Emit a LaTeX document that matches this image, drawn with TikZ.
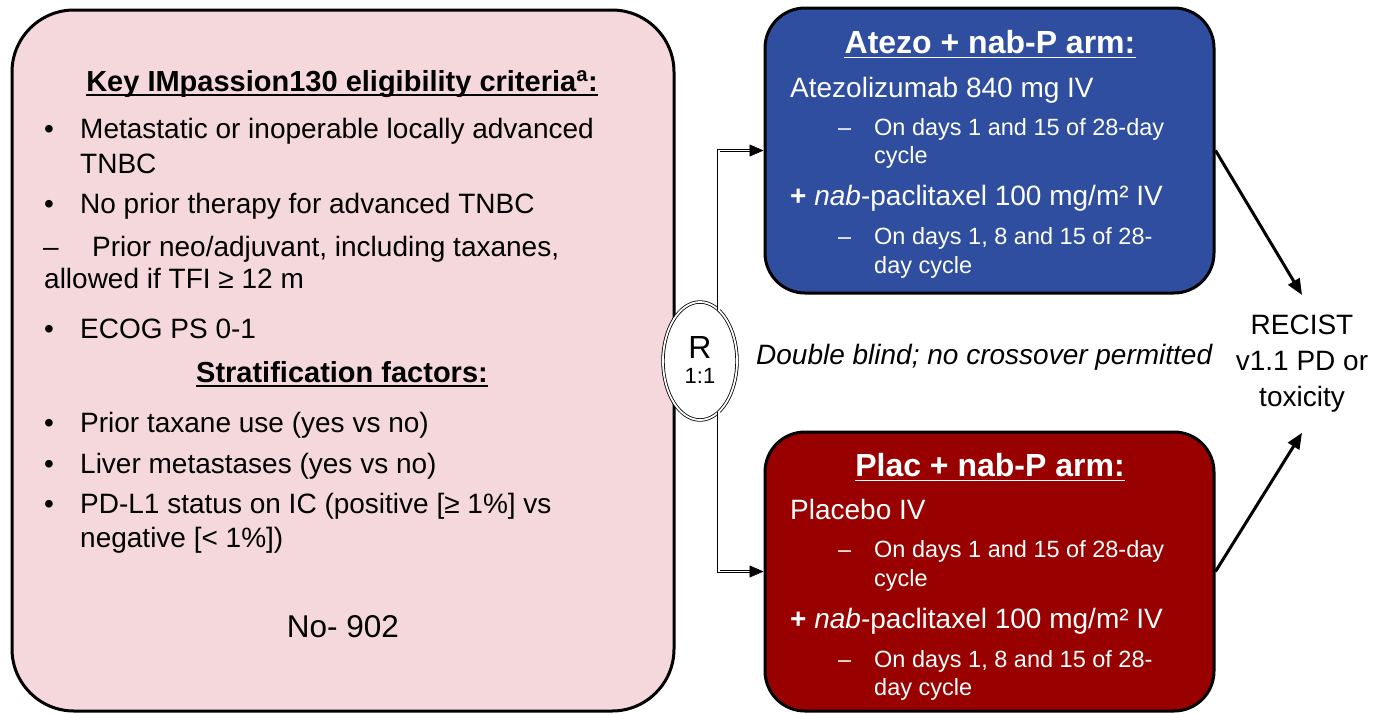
\documentclass[tikz,border=0pt]{standalone}
\usepackage{fontspec}
\setmainfont{Liberation Sans}
\usetikzlibrary{arrows.meta,shapes.geometric}
\definecolor{pinkfill}{RGB}{244,216,219}
\definecolor{bluefill}{RGB}{47,78,160}
\definecolor{redfill}{RGB}{153,0,0}
\begin{document}
\begin{tikzpicture}[x=1pt,y=-1pt,
  txt/.style={inner sep=0pt, anchor=base west, font=\fontsize{28}{33}\selectfont},
  wtxt/.style={txt, text=white},
  sub/.style={inner sep=0pt, anchor=base west, font=\fontsize{23.5}{28}\selectfont, text=white},
  hdr/.style={inner sep=0pt, anchor=base, font=\bfseries\fontsize{29}{35}\selectfont},
  armhdr/.style={inner sep=0pt, anchor=base, text=white, font=\bfseries\fontsize{32}{38}\selectfont},
  box/.style={draw=black, line width=3pt, rounded corners=#1, inner sep=0pt},
  uline/.style={line width=1.8pt},
  arr/.style={line width=3pt, -{Triangle[length=16pt,width=13pt]}},
  dbl/.style={draw=black, double=white, line width=0.8pt, double distance=1.8pt},
  tip/.style={line width=0.5pt, -{Triangle[length=14pt,width=12pt]}},
]
\useasboundingbox (0,0) rectangle (1376,713);
\fill[white] (0,0) rectangle (1376,713);

% boxes
\node[box=62, fill=pinkfill, minimum width=662pt, minimum height=701pt] (elig) at (343,360.5) {};
\node[box=40, fill=bluefill, minimum width=449pt, minimum height=285pt] (atz) at (989.5,150.5) {};
\node[box=40, fill=redfill, minimum width=449pt, minimum height=279pt] (plc) at (989.5,571.5) {};

% left box text
\node[hdr] (h1) at (342,91) {Key IMpassion130 eligibility criteria\textsuperscript{a}:};
\draw[uline] ([yshift=-4pt]h1.base west) -- ([yshift=-4pt]h1.base east);
\node[txt] (b1) at (44,138) {•};
\node[txt] (t1a) at (80,138) {Metastatic or inoperable locally advanced};
\node[txt] (t1b) at (80,173) {TNBC};
\node[txt] (b2) at (44,213) {•};
\node[txt] (t2) at (80,213) {No prior therapy for advanced TNBC};
\node[txt] (d3) at (43,256) {–};
\node[txt] (t3a) at (92,256) {Prior neo/adjuvant, including taxanes,};
\node[txt] (t3b) at (44,288) {allowed if TFI ≥ 12 m};
\node[txt] (b4) at (44,338) {•};
\node[txt] (t4) at (80,338) {ECOG PS 0-1};
\node[hdr] (h2) at (342,382) {Stratification factors:};
\draw[uline] ([yshift=-4pt]h2.base west) -- ([yshift=-4pt]h2.base east);
\node[txt] (b5) at (44,432) {•};
\node[txt] (t5) at (80,432) {Prior taxane use (yes vs no)};
\node[txt] (b6) at (44,473) {•};
\node[txt] (t6) at (80,473) {Liver metastases (yes vs no)};
\node[txt] (b7) at (44,513) {•};
\node[txt] (t7a) at (80,513) {PD-L1 status on IC (positive [≥ 1\%] vs};
\node[txt] (t7b) at (80,547) {negative [< 1\%])};
\node[txt, anchor=base, font=\fontsize{31.5}{36}\selectfont] (n) at (343,637) {No- 902};

% blue box text
\node[armhdr] (ah) at (990,53) {Atezo + nab-P arm:};
\draw[uline, white] ([yshift=-4.5pt]ah.base west) -- ([yshift=-4.5pt]ah.base east);
\node[wtxt] (a1) at (790,97) {Atezolizumab 840 mg IV};
\node[sub] (ad1) at (838,135) {–};
\node[sub] (a2) at (874,135) {On days 1 and 15 of 28-day};
\node[sub] (a3) at (874,163) {cycle};
\node[wtxt] (a4) at (790,205) {\textbf{+} \textit{nab}-paclitaxel 100 mg/m² IV};
\node[sub] (ad2) at (838,244) {–};
\node[sub] (a5) at (874,244) {On days 1, 8 and 15 of 28-};
\node[sub] (a6) at (874,273) {day cycle};

% red box text
\node[armhdr] (ph) at (990,476) {Plac + nab-P arm:};
\draw[uline, white] ([yshift=-4.5pt]ph.base west) -- ([yshift=-4.5pt]ph.base east);
\node[wtxt] (p1) at (790,519) {Placebo IV};
\node[sub] (pd1) at (838,557) {–};
\node[sub] (p2) at (874,557) {On days 1 and 15 of 28-day};
\node[sub] (p3) at (874,586) {cycle};
\node[wtxt] (p4) at (790,628) {\textbf{+} \textit{nab}-paclitaxel 100 mg/m² IV};
\node[sub] (pd2) at (838,667) {–};
\node[sub] (p5) at (874,667) {On days 1, 8 and 15 of 28-};
\node[sub] (p6) at (874,695) {day cycle};

% middle
\node[txt, font=\itshape\fontsize{28}{33}\selectfont] (db) at (756,364) {Double blind; no crossover permitted};

% randomisation
\node[ellipse, dbl, fill=white, minimum width=74pt, minimum height=118pt, inner sep=0pt] (R) at (700,361) {};
\node[inner sep=0pt, anchor=base, font=\fontsize{32}{36}\selectfont] (Rl) at (700,358) {R};
\node[inner sep=0pt, anchor=base, font=\fontsize{22}{24}\selectfont] (Rr) at (700,383) {1:1};
\draw[dbl, shorten >=12pt] (R.70) |- (atz.west);
\draw[tip] ([xshift=-14pt]atz.west) -- (atz.west);
\draw[dbl, shorten >=12pt] (R.-70) |- (plc.west);
\draw[tip] ([xshift=-14pt]plc.west) -- (plc.west);

% outcome
\node[align=center, font=\fontsize{28}{36}\selectfont, inner xsep=0pt, inner ysep=20pt, anchor=north] (rec) at (1302,295) {RECIST\\v1.1 PD or\\toxicity};
\draw[arr] (atz.east) -- (rec.north);
\draw[arr] (plc.east) -- (rec.south);
\end{tikzpicture}
\end{document}
